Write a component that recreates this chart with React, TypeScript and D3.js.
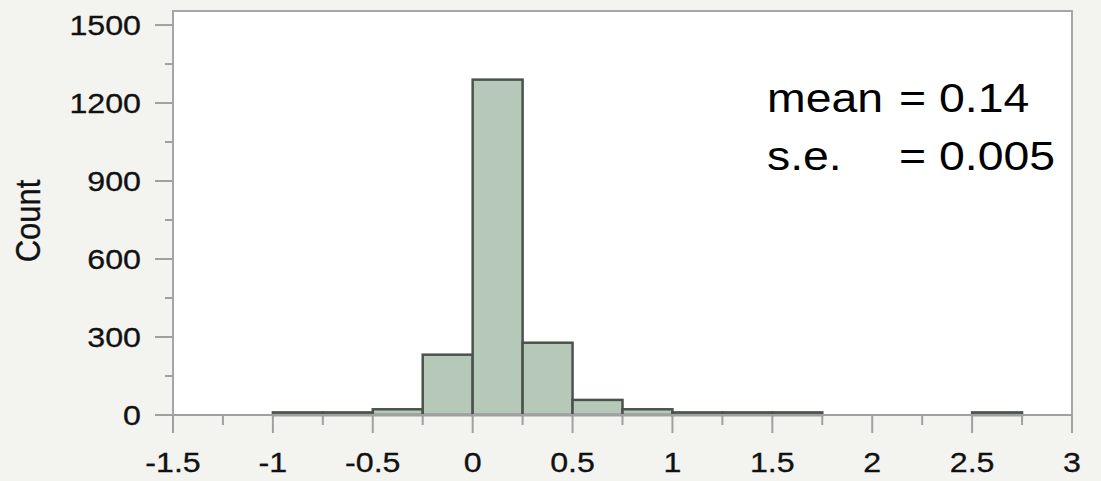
import React from "react";
import * as d3 from "d3";

const binStarts = [-1, -0.75, -0.5, -0.25, 0, 0.25, 0.5, 0.75, 1, 1.25, 1.5, 2.5];
const counts = [10, 10, 22, 232, 1290, 278, 58, 22, 10, 10, 10, 10];
const binWidth = 0.25;
const xTicks = [-1.5, -1, -0.5, 0, 0.5, 1, 1.5, 2, 2.5, 3];
const xMinorTicks = [-1.25, -0.75, -0.25, 0.25, 0.75, 1.25, 1.75, 2.25, 2.75];
const yTicks = [0, 300, 600, 900, 1200, 1500];
const yMinorTicks = [150, 450, 750, 1050, 1350];
const yLabel = "Count";
const statLines = [
  { name: "mean", value: "= 0.14" },
  { name: "s.e.", value: "= 0.005" },
];

const W = 1101;
const H = 481;
const left = 173;
const right = 1072;
const top = 11;
const bottom = 415;
const FONT = "'Liberation Sans', Arial, Helvetica, sans-serif";
const SX = 1.15;

export default function App() {
  const x = d3.scaleLinear().domain([-1.5, 3]).range([left, right]);
  const y = d3.scaleLinear().domain([0, 1554]).range([bottom, top]);
  const fmt = (v: number) => String(v);

  return (
    <svg
      width={W}
      height={H}
      style={{ position: "absolute", left: 0, top: 0, display: "block" }}
    >
      <rect x={0} y={0} width={W} height={H} fill="#f3f3ef" />
      <rect x={left} y={top} width={right - left} height={bottom - top} fill="#ffffff" />
      {binStarts.map((b, i) => (
        <rect
          key={i}
          x={x(b)}
          y={y(counts[i])}
          width={x(b + binWidth) - x(b)}
          height={y(0) - y(counts[i])}
          fill="#b6c9b9"
          stroke="#4b534d"
          strokeWidth={2.5}
        />
      ))}
      <path
        d={`M${left},${bottom}V${top}H${right}V${bottom}`}
        fill="none"
        stroke="#a6a6a6"
        strokeWidth={2}
      />
      <line x1={left - 2} x2={right} y1={bottom} y2={bottom} stroke="#a0a0a0" strokeWidth={2} />
      {xTicks.map((t) => (
        <g key={"xt" + t}>
          <line x1={x(t)} x2={x(t)} y1={bottom} y2={bottom + 18} stroke="#a0a0a0" strokeWidth={2} />
          <text
            transform={`translate(${x(t)},${472}) scale(${SX},1)`}
            textAnchor="middle"
            fontFamily={FONT}
            fontSize={28}
            fill="#111"
            stroke="#111"
            strokeWidth={0.3}
          >
            {fmt(t)}
          </text>
        </g>
      ))}
      {xMinorTicks.map((t) => (
        <line key={"xm" + t} x1={x(t)} x2={x(t)} y1={bottom} y2={bottom + 10} stroke="#a0a0a0" strokeWidth={2} />
      ))}
      {yTicks.map((t) => (
        <g key={"yt" + t}>
          <line x1={left - 18} x2={left} y1={y(t)} y2={y(t)} stroke="#a0a0a0" strokeWidth={2} />
          <text
            transform={`translate(${141},${y(t) + 10}) scale(${SX},1)`}
            textAnchor="end"
            fontFamily={FONT}
            fontSize={28}
            fill="#111"
            stroke="#111"
            strokeWidth={0.3}
          >
            {t}
          </text>
        </g>
      ))}
      {yMinorTicks.map((t) => (
        <line key={"ym" + t} x1={left - 8} x2={left} y1={y(t)} y2={y(t)} stroke="#a0a0a0" strokeWidth={2} />
      ))}
      <text
        transform={`translate(40,${(top + bottom) / 2 + 8}) rotate(-90) scale(1,${SX})`}
        textAnchor="middle"
        fontFamily={FONT}
        fontSize={31}
        fill="#111"
        stroke="#111"
        strokeWidth={0.3}
      >
        {yLabel}
      </text>
      {statLines.map((s, i) => (
        <g key={s.name} fontFamily={FONT} fontSize={40} fill="#000">
          <text transform={`translate(767,${112 + i * 58}) scale(1.16,1)`}>{s.name}</text>
          <text transform={`translate(899,${112 + i * 58}) scale(1.16,1)`}>{s.value}</text>
        </g>
      ))}
    </svg>
  );
}
